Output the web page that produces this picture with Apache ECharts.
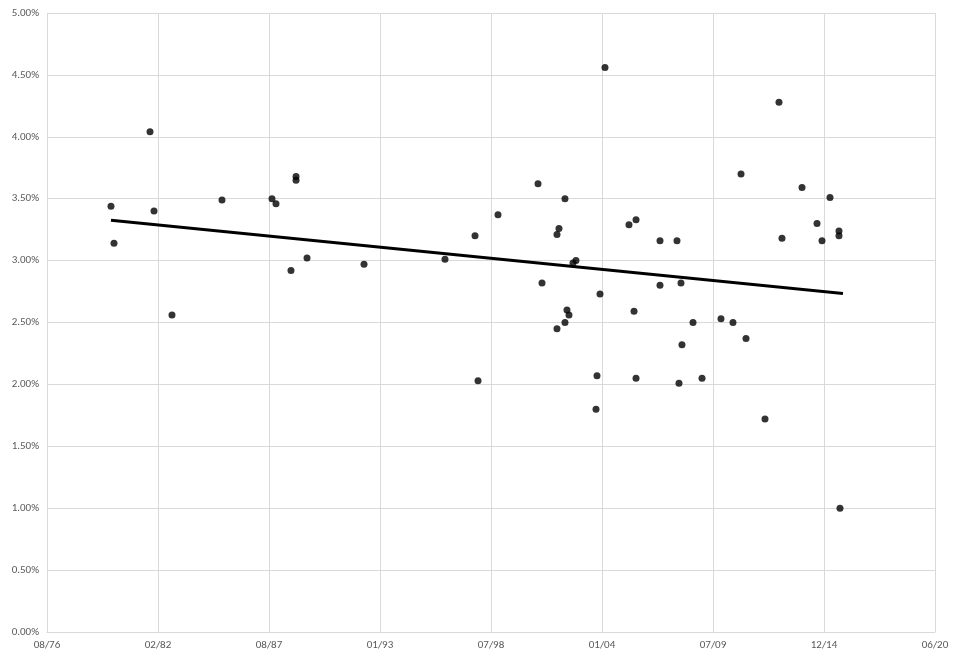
<!DOCTYPE html>
<html><head><meta charset="utf-8">
<script src="https://cdn.jsdelivr.net/npm/echarts@6/dist/echarts.min.js"></script>
<style>html,body{margin:0;padding:0;background:#fff}#c{width:960px;height:661px}</style>
</head><body><div id="c"></div>
<script>
// x: Excel date serials, y: percent
const xSerial = [29153,29207,29856,29928,30252,31153,32054,32126,32396,32487,32487,32685,33712,35171,35712,35766,36126,36847,36919,37189,37225,37189,37333,37333,37369,37405,37477,37531,37910,37892,37964,38054,38486,38577,38613,38613,39045,39045,39351,39387,39423,39441,39640,39802,40144,40360,40505,40595,40937,41189,41243,41604,41874,41964,42108,42270,42270,42288];
const yPct = [3.44,3.14,4.04,3.40,2.56,3.49,3.50,3.46,2.92,3.68,3.65,3.02,2.97,3.01,3.20,2.03,3.37,3.62,2.82,3.21,3.26,2.45,3.50,2.50,2.60,2.56,2.98,3.00,2.07,1.80,2.73,4.56,3.29,2.59,3.33,2.05,3.16,2.80,3.16,2.01,2.82,2.32,2.50,2.05,2.53,2.50,3.70,2.37,1.72,4.28,3.18,3.59,3.30,3.16,3.51,3.24,3.20,1.00];
const trendStart = [29153, 3.325];
const trendEnd = [42342, 2.735];

function fmtDate(s){
  const d = new Date((s-25569)*86400000);
  const m = String(d.getUTCMonth()+1).padStart(2,'0');
  const y = String(d.getUTCFullYear()%100).padStart(2,'0');
  return m+'/'+y;
}
const chart = echarts.init(document.getElementById('c'));
const lbl = {color:'#595959', fontSize:11, fontFamily:'Calibri, Carlito, Liberation Sans, Arial'};
chart.setOption({
  animation:false,
  grid:{left:47,right:25,top:13,bottom:29},
  xAxis:{type:'value',min:28000,max:44000,interval:2000,
    axisLabel:Object.assign({formatter:fmtDate,margin:8},lbl),
    axisLine:{show:true,lineStyle:{color:'#d9d9d9'}},axisTick:{show:false},
    splitLine:{show:true,lineStyle:{color:'#d9d9d9'}}},
  yAxis:{type:'value',min:0,max:5,interval:0.5,
    axisLabel:Object.assign({formatter:v=>v.toFixed(2)+'%'},lbl),
    axisLine:{show:false},axisTick:{show:false},
    splitLine:{show:true,lineStyle:{color:'#d9d9d9'}}},
  series:[
    {type:'scatter',data:xSerial.map((x,i)=>[x,yPct[i]]),symbolSize:7,itemStyle:{color:'#000'}},
    {type:'line',data:[trendStart,trendEnd],symbol:'none',lineStyle:{color:'#000',width:3}}
  ]
});
</script></body></html>
